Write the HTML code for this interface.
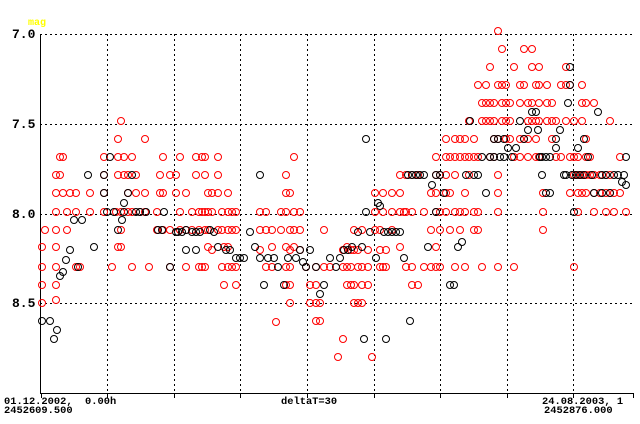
<!DOCTYPE html>
<html><head><meta charset="utf-8"><style>
html,body{margin:0;padding:0;background:#fff;}
#c{position:relative;width:640px;height:424px;overflow:hidden;}
.t{position:absolute;font-family:"Liberation Mono",monospace;font-weight:bold;color:#000;white-space:pre;line-height:1;}
.y{font-size:13px;left:12px;}
.b{font-size:10.4px;}
</style></head><body><div id="c">
<svg id="s" width="640" height="424" style="position:absolute;left:0;top:0"></svg>
<div class="t" style="left:28px;top:19px;font-size:10px;color:#ff0;">mag</div>
<div class="t y" style="top:28px">7.0</div>
<div class="t y" style="top:118px">7.5</div>
<div class="t y" style="top:208px">8.0</div>
<div class="t y" style="top:297px">8.5</div>
<div class="t b" style="left:4px;top:397px">01.12.2002,  0.00h</div>
<div class="t b" style="left:4px;top:406px">2452609.500</div>
<div class="t b" style="left:281px;top:397px">deltaT=30</div>
<div class="t b" style="left:542px;top:397px">24.08.2003, 1</div>
<div class="t b" style="left:544px;top:406px">2452876.000</div>
</div>
<script>
var s=document.getElementById('s'),h='';
[34,124,214,303].forEach(function(y){h+='<line x1="40" y1="'+(y+.5)+'" x2="632" y2="'+(y+.5)+'" stroke="#000" stroke-dasharray="2,3"/>';});
for(var k=1;k<9;k++){var x=Math.round(40.5+66.6*k)+.5;h+='<line x1="'+x+'" y1="34" x2="'+x+'" y2="393" stroke="#000" stroke-dasharray="2,3"/>';}
for(var k=0;k<10;k++){var x=Math.round(40.5+66.6*k)+.5;if(k==9)x=633.5;h+='<line x1="'+x+'" y1="393" x2="'+x+'" y2="398" stroke="#000"/>';}
h+='<line x1="40.5" y1="34" x2="40.5" y2="393" stroke="#000"/><line x1="40" y1="393.5" x2="634" y2="393.5" stroke="#000"/>';
var R={42:[247,267,285,303],45:[230],56:[175,193,212,230,247,267,285,300],60:[157,175],63:[157,193],67:[212,230],70:[193],76:[193,212,267],80:[267],90:[193,212],104:[157,175,193,212],112:[267],116:[212],118:[139,157,175,247],121:[121,212,230,247],124:[157,175],128:[175,193,212],132:[157,212,267],136:[175,193],140:[212],145:[139,193,212],149:[267],157:[212,230],160:[175,193],163:[157,193,230],170:[175,230,267],176:[175,193],180:[157,212,230],186:[193,230,267],192:[212,230],196:[157,175],199:[212,230,267],202:[157,212,267],205:[157,175,212,230,267],208:[193,212,230,247],212:[193,212,250],218:[157,175,193,230],222:[212,230,267],224:[247,285],228:[193,212,230,247,267],232:[212,230,267],236:[212,230,267,285],260:[212,230,250],266:[212,230,267],272:[230,247,267],276:[322],281:[212,230],286:[175,193,212,247,267,285],290:[193,230,250,267,285,303],294:[157,212,230,247],300:[212,230,250],306:[267],310:[285,303],316:[267,285,303,321],320:[303,321],324:[230,267],330:[267],338:[357],343:[250,267,339],347:[247,267,285],351:[250,267,285],354:[230,250,285,303],358:[250,267,303],362:[230,267,285,303],368:[250,267,285],372:[357],375:[193,212,230],380:[230,250,267],383:[193,212,267],386:[250,267],392:[193,212,230],400:[175,193,212,247],404:[212],406:[175,212,267],412:[175,212,267,285],418:[175,285],424:[212,267],431:[193,230,267],436:[157,175,193,212,247,267],440:[175,212,230,267],446:[139,157,175,193,212],450:[157,193,230],455:[139,157,175,212,267],460:[139,157,212,230],465:[139,157,193,212,267],469:[121,157,175],474:[139,157,212,230],478:[85,157,212,230],482:[103,121,267],486:[85,103,121],490:[67,103,121,157],494:[103,121,139,157],498:[31,85,139,175,193,212,267],502:[49,85,103,121],506:[85,103,121,139],510:[103,121,139],514:[67,157,267],520:[85,103,139,157],524:[49,85,139],528:[103,121,139,157],532:[49,67,103,121],536:[85,121,139,157],539:[67,85,103,121,157],543:[193,212,230],547:[85,103,121],552:[103,121,139],556:[121,157],561:[85,157],566:[67,85,121],570:[85,157,193],574:[121,157,175,267],578:[157,175,193,212],582:[85,103,121,175,193],586:[103,139,157,175,193],590:[157,175],594:[103,175,193,212],600:[175,193],606:[175,193,212],610:[121,175,193],614:[193,212],620:[157,193],626:[212]};
var B={42:[321],50:[321],54:[339],57:[330],60:[276],63:[272],66:[260],70:[250],74:[220],78:[267],82:[220],88:[175],94:[247],104:[175,193],107:[212],110:[157],114:[212],118:[230],122:[220],124:[203,212],128:[193],132:[175],136:[212],140:[212],146:[212],158:[230],162:[230],164:[212],170:[267],176:[232],178:[232],182:[232],186:[230,250],192:[232],196:[232,250],200:[232],210:[230],214:[232],218:[247],226:[250],230:[250],236:[258],240:[258],244:[258],250:[232],255:[247],260:[175,258],264:[285],268:[258],274:[258],278:[267],284:[285],288:[258],296:[258],300:[250],303:[262],306:[267],310:[250],316:[267],320:[294],324:[285],330:[258],336:[267],340:[258],344:[250],348:[250],352:[247],358:[232],362:[247],364:[339],366:[139,212],370:[232],376:[258],378:[203],380:[206],384:[232],386:[339],388:[232],392:[232],396:[232],400:[232],404:[258],408:[175],410:[321],412:[175],416:[175],420:[175],424:[175],428:[247],432:[185],436:[175,212],440:[175],444:[193],450:[285],454:[285],458:[247],462:[242],466:[175],470:[121],474:[175],478:[175],482:[157],486:[193],490:[157],494:[139,157],498:[139],500:[157],504:[139,157],508:[148],512:[157],516:[148],520:[121],524:[139],528:[130],532:[112],536:[112],538:[130],540:[157],542:[157,175],546:[157,193],550:[157,193],556:[139,148],560:[130],564:[175],566:[175],568:[103],570:[67,85],572:[175],574:[212],576:[175],578:[148],580:[175],584:[139,175],588:[157],592:[175],594:[193],598:[112],602:[175,193],606:[175],610:[193],614:[175],618:[175],622:[182],624:[175],626:[157,185]};
function d(o,c){for(var x in o)o[x].forEach(function(y){h+='<ellipse cx="'+x+'" cy="'+y+'" rx="3.5" ry="3.5" fill="none" stroke="'+c+'" stroke-width="1"/>';});}
d(R,'#f00');d(B,'#000');
s.innerHTML=h;
</script>
</body></html>
